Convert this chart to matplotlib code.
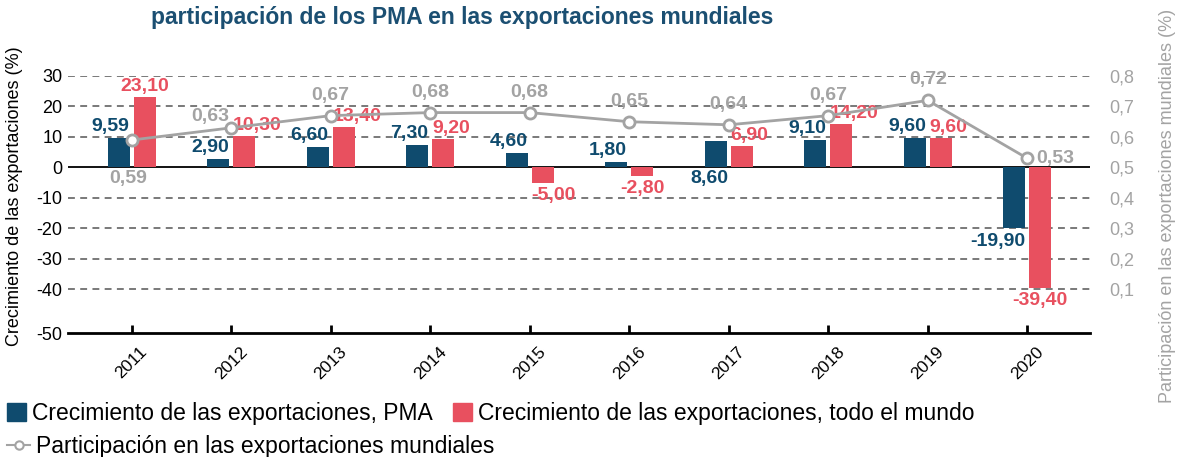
import numpy as np
import matplotlib.pyplot as plt
from matplotlib.patches import Patch
from matplotlib.lines import Line2D

plt.rcParams['font.family'] = ['Liberation Sans', 'DejaVu Sans']

# Data
years = ['2011', '2012', '2013', '2014', '2015', '2016', '2017', '2018', '2019', '2020']
growth_ldc = [9.59, 2.90, 6.60, 7.30, 4.60, 1.80, 8.60, 9.10, 9.60, -19.90]
growth_world = [23.10, 10.30, 13.40, 9.20, -5.00, -2.80, 6.90, 14.20, 9.60, -39.40]
share_world = [0.59, 0.63, 0.67, 0.68, 0.68, 0.65, 0.64, 0.67, 0.72, 0.53]
left_ticks = [30, 20, 10, 0, -10, -20, -30, -40, -50]
right_ticks = [0.8, 0.7, 0.6, 0.5, 0.4, 0.3, 0.2, 0.1]

BLUE = '#0f4b6e'
RED = '#e8505f'
GRAY = '#a3a3a3'
TITLE = '#1b4f72'


def fmt(v, nd=2):
    return f'{v:.{nd}f}'.replace('.', ',')


fig = plt.figure(figsize=(11.89, 4.57), dpi=100)
ax = fig.add_axes([0.0572, 0.2713, 0.8595, 0.5624])

x = np.arange(len(years))
w = 0.22
off = 0.13
ylo, yhi = -54.3, 30

# grid
for t in left_ticks[:-1]:
    if t == 0:
        ax.axhline(0, color='black', lw=1.3, zorder=2)
    else:
        ax.axhline(t, color='#555555', lw=1.1, ls=(0, (4.5, 3.5)), zorder=1)

ax.bar(x - off, growth_ldc, w, color=BLUE, zorder=3)
ax.bar(x + off, growth_world, w, color=RED, zorder=3)

ax.set_xlim(-0.64, 9.63)
ax.set_ylim(ylo, yhi)
ax.set_xticks(x)
ax.set_xticklabels(years, rotation=45, fontsize=12.5)
ax.tick_params(axis='x', direction='in', length=6, width=2, pad=8)
tick_pos = [t if t != -50 else ylo for t in left_ticks]
ax.set_yticks(tick_pos)
ax.set_yticklabels([str(t) for t in left_ticks], fontsize=13)
ax.tick_params(axis='y', length=0, pad=4)
for s in ['top', 'left', 'right']:
    ax.spines[s].set_visible(False)
ax.spines['bottom'].set_linewidth(2)

# bar labels
for i, v in enumerate(growth_ldc):
    if i == 6:
        ax.annotate(fmt(v), (i - off + w / 2, 0), xytext=(2, -3), textcoords='offset pixels',
                    ha='right', va='top', color=BLUE, fontsize=14, fontweight='bold', zorder=6)
    elif v >= 0:
        ax.annotate(fmt(v), (i - off + w / 2, v), xytext=(0, 3), textcoords='offset pixels',
                    ha='right', va='bottom', color=BLUE, fontsize=14, fontweight='bold', zorder=6)
    else:
        ax.annotate(fmt(v), (i - off + w / 2, v), xytext=(0, -5), textcoords='offset pixels',
                    ha='right', va='top', color=BLUE, fontsize=14, fontweight='bold', zorder=6)

red_ha = ['center', 'left', 'left', 'left', 'left', 'center', 'left', 'left', 'left', 'center']
for i, v in enumerate(growth_world):
    ha = red_ha[i]
    xx = i + off if ha == 'center' else i + off - w / 2
    if v >= 0:
        ax.annotate(fmt(v), (xx, v), xytext=(0, 2), textcoords='offset pixels',
                    ha=ha, va='bottom', color=RED, fontsize=14, fontweight='bold', zorder=6)
    else:
        ax.annotate(fmt(v), (xx, v), xytext=(0, -4), textcoords='offset pixels',
                    ha=ha, va='top', color=RED, fontsize=14, fontweight='bold', zorder=6)

# share line on secondary axis
ax2 = ax.twinx()
ax2.set_ylim((ylo + 50) / 100, (yhi + 50) / 100)
ax2.plot(x, share_world, color=GRAY, lw=2, marker='o', ms=8, mfc='white', mec=GRAY, mew=2, zorder=5)
ax2.set_yticks(right_ticks)
ax2.set_yticklabels([fmt(t, 1) for t in right_ticks], fontsize=13, color=GRAY)
ax2.tick_params(axis='y', length=0, pad=14)
for s in ['top', 'left', 'right', 'bottom']:
    ax2.spines[s].set_visible(False)

share_off = {0: ((-4, -30), 'center', 'top'), 1: ((-2, 3), 'right', 'bottom'),
             9: ((9, 0), 'left', 'center')}
for i, v in enumerate(share_world):
    (dx, dy), ha, va = share_off.get(i, ((0, 12), 'center', 'bottom'))
    ax2.annotate(fmt(v), (i, v), xytext=(dx, dy), textcoords='offset pixels',
                 ha=ha, va=va, color=GRAY, fontsize=14, fontweight='bold', zorder=6)

fig.text(0.389, 0.961, 'participación de los PMA en las exportaciones mundiales',
         ha='center', va='center', fontsize=16.5, fontweight='bold', color=TITLE)
fig.text(0.0126, 0.571, 'Crecimiento de las exportaciones (%)', rotation=90,
         ha='center', va='center', fontsize=13)
fig.text(0.982, 0.55, 'Participación en las exportaciones mundiales (%)', rotation=90,
         ha='center', va='center', fontsize=13, color=GRAY)

leg1 = fig.legend(handles=[Patch(color=BLUE), Patch(color=RED)],
                  labels=['Crecimiento de las exportaciones, PMA',
                          'Crecimiento de las exportaciones, todo el mundo'],
                  loc='center left', bbox_to_anchor=(0.006, 0.096), ncol=2, frameon=False,
                  fontsize=16.5, borderpad=0, borderaxespad=0, handlelength=0.82, handleheight=0.82,
                  handletextpad=0.25, columnspacing=0.9)
leg2 = fig.legend(handles=[Line2D([], [], color=GRAY, lw=1.5, marker='o', ms=6,
                                  mfc='white', mec=GRAY, mew=1.5)],
                  labels=['Participación en las exportaciones mundiales'],
                  loc='center left', bbox_to_anchor=(0.006, 0.024), frameon=False,
                  fontsize=16.5, borderpad=0, borderaxespad=0, handlelength=1.0,
                  handletextpad=0.27)

fig.savefig('out.png', dpi=100)
